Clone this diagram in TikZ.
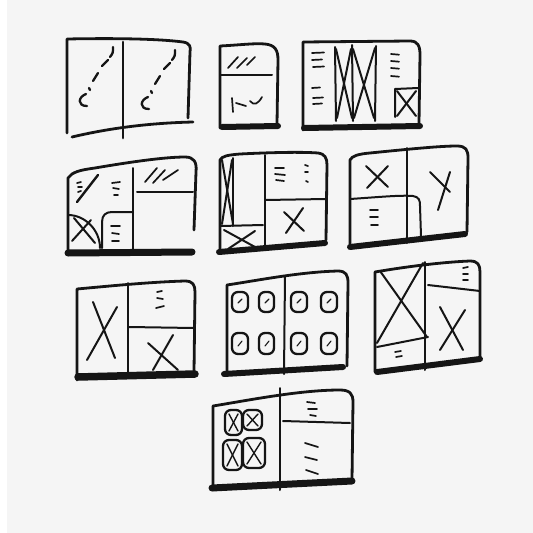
\documentclass[tikz,border=0pt]{standalone}
\usetikzlibrary{calc}
\definecolor{bgg}{HTML}{F5F5F5}
\definecolor{ink}{HTML}{151515}
\begin{document}
\begin{tikzpicture}[x=1pt,y=-1pt,
  sk/.style={line width=2.8pt,line cap=round,line join=round,draw=ink},
  thin/.style={line width=2pt,line cap=round,line join=round,draw=ink},
  dsh/.style={line width=1.7pt,line cap=round,draw=ink},
  base/.style={line width=6pt,line cap=round,draw=ink},
  tile/.style={line width=2.3pt,line cap=round,line join=round,draw=ink,rounded corners=6pt}]
\useasboundingbox (0,0) rectangle (533,533);
\fill[white] (0,0) rectangle (533,533);
\fill[bgg] (7,0) rectangle (533,533);

% ---- sketch 1
\draw[sk] (67,133) -- (67,39) .. controls (120,38) and (160,39) .. (183,42) .. controls (190,43) and (191,47) .. (190,52) -- (188,118);
\draw[sk] (72,137) .. controls (110,128) and (150,123) .. (193,122);
\draw[sk] (123,42) -- (123,138);
\foreach \dx/\dy in {0/0,62/3}{
  \begin{scope}[shift={(\dx,\dy)}]
  \draw[dsh,line width=2.3pt] (86,94) .. controls (78,97) and (77,106) .. (87,106);
  \draw[dsh,line width=2.3pt] (89,88) -- (90,90);
  \draw[dsh,line width=2.3pt] (93,81) -- (98,73);
  \draw[dsh,line width=2.3pt] (102,66) -- (108,60);
  \draw[dsh,line width=2.3pt] (110,57) .. controls (113,53) .. (113,47);
  \end{scope}}

% ---- sketch 2
\draw[sk] (220,128) -- (220,46) .. controls (240,45) and (255,43) .. (265,44) .. controls (275,45) and (278,50) .. (278,60) -- (277,124);
\draw[thin] (220,75) -- (272,75);
\draw[base] (222,127) -- (278,126);
\draw[dsh] (228,68) -- (238,57);
\draw[dsh] (237,68) -- (247,58);
\draw[dsh] (247,65) -- (255,57);
\draw[dsh] (232,98) -- (233,112);
\draw[dsh] (236,103) -- (246,106);
\draw[dsh] (250,101) .. controls (254,106) and (258,104) .. (262,97);

% ---- sketch 3
\draw[sk] (303,130) -- (303,42) -- (410,41) .. controls (418,41) and (420,46) .. (420,55) -- (419,123);
\draw[base] (304,128) -- (420,126);
\draw[thin] (335,47) -- (336,121);
\draw[thin] (352,45) -- (353,121);
\draw[thin] (376,46) -- (375,121);
\draw[thin] (336,49) -- (352,118);
\draw[thin] (351,49) -- (337,118);
\draw[thin] (353,49) -- (374,118);
\draw[thin] (375,48) -- (354,118);
\foreach \a/\b/\y in {312/324/53,312/322/60,313/324/67,312/320/88,313/323/98,313/322/104}
  \draw[dsh] (\a,\y) -- (\b,\y-0.5);
\foreach \y in {54,61,68,76}
  \draw[dsh] (391,\y) -- (399,\y+0.7);
\draw[thin] (395,117) -- (395,89) -- (418,88);
\draw[thin] (397,91) -- (416,116);
\draw[thin] (416,91) -- (397,116);

% ---- sketch 4
\draw[sk] (68,250) -- (68,178) .. controls (72,172) and (80,170) .. (95,168) .. controls (130,162) and (165,157) .. (185,157) .. controls (194,157) and (197,162) .. (196,172) -- (194,230);
\draw[base,line width=7pt] (68,253) -- (192,252);
\draw[thin] (133,168) -- (133,252);
\draw[thin] (137,192) -- (193,192);
\draw[dsh] (145,182) -- (157,168);
\draw[dsh] (153,183) -- (165,170);
\draw[dsh] (163,180) -- (178,170);
\draw[thin,line width=2.4pt] (77,202) -- (98,175);
\draw[dsh] (77,183) -- (81,182);
\draw[dsh] (78,187) -- (82,187);
\draw[dsh] (78,192) -- (81,191);
\draw[dsh] (112,183) -- (120,182);
\draw[dsh] (113,188) -- (119,189);
\draw[dsh] (114,195) -- (118,195);
\draw[thin] (102,248) -- (102,222) .. controls (102,215) and (106,212) .. (112,212) -- (133,212);
\draw[dsh] (111,226) -- (120,226);
\draw[dsh] (112,233) -- (119,234);
\draw[dsh] (112,241) -- (119,241);
\draw[thin] (68,215) .. controls (85,215) and (100,230) .. (100,248);
\draw[thin] (72,241) -- (91,220);
\draw[thin] (74,218) -- (95,243);

% ---- sketch 5
\draw[sk] (220,252) -- (220,160) .. controls (222,156) and (228,155) .. (240,154) .. controls (280,152) and (305,152) .. (318,153) .. controls (325,154) and (327,158) .. (327,165) -- (326,240);
\draw[base] (219,252) -- (325,243);
\draw[thin] (265,155) -- (265,250);
\draw[thin] (265,200) -- (326,199);
\draw[thin] (233,158) -- (233,226);
\draw[thin] (222,160) -- (233,224);
\draw[thin] (232,160) -- (222,224);
\draw[thin] (220,226) -- (263,225);
\draw[thin] (224,230) -- (255,247);
\draw[thin] (255,231) -- (228,249);
\draw[dsh] (275,168) -- (284,168);
\draw[dsh] (275,174) -- (285,175);
\draw[dsh] (276,180) -- (284,181);
\draw[dsh] (305,165) -- (308,166);
\draw[dsh] (305,172) -- (308,172);
\draw[dsh] (306,181) -- (308,182);
\draw[thin] (284,212) -- (304,231);
\draw[thin] (303,208) -- (286,233);

% ---- sketch 6
\draw[sk] (350,247) -- (350,160) .. controls (352,156) and (358,154) .. (370,153) .. controls (410,149) and (440,146) .. (457,146) .. controls (466,146) and (468,150) .. (468,158) -- (467,232);
\draw[base] (350,247) -- (465,234);
\draw[thin] (407,148) -- (407,243);
\draw[thin] (350,199) .. controls (380,197) and (400,195) .. (413,196) .. controls (419,197) and (420,200) .. (420,206) -- (421,236);
\draw[thin] (366,166) -- (388,187);
\draw[thin] (388,166) -- (367,188);
\draw[thin] (430,172) -- (450,192);
\draw[thin] (450,172) -- (438,210);
\draw[dsh] (370,210) -- (378,210);
\draw[dsh] (370,217) -- (378,217);
\draw[dsh] (371,225) -- (378,225);

% ---- sketch 7
\draw[sk] (77,380) -- (77,289) .. controls (110,286) and (150,282) .. (185,281) .. controls (193,281) and (195,285) .. (195,292) -- (194,372);
\draw[base,line width=7.5pt] (78,377) -- (195,374);
\draw[thin] (128,283) -- (128,375);
\draw[thin] (129,327) -- (194,328);
\draw[thin] (93,302) -- (115,358);
\draw[thin] (117,307) -- (87,360);
\draw[dsh] (157,292) -- (162,291);
\draw[dsh] (157,298) -- (163,299);
\draw[dsh] (156,308) -- (164,306);
\draw[thin] (148,343) -- (178,370);
\draw[thin] (173,335) -- (153,370);

% ---- sketch 8
\draw[sk] (227,373) -- (227,285) .. controls (260,280) and (300,272) .. (338,271) .. controls (346,271) and (348,275) .. (348,283) -- (347,366);
\draw[base] (224,374) -- (343,367);
\draw[thin] (285,276) -- (284,374);
\foreach \xa/\xb in {232/248,259/274,291/307,321/337}{
  \draw[tile] (\xa,292) rectangle (\xb,312);
  \draw[tile] (\xa,333) rectangle (\xb,354);
  \draw[dsh,line width=1.1pt] (\xa+6,303) -- (\xa+10,299);
  \draw[dsh,line width=1.1pt] (\xa+6,346) -- (\xa+10,341);
}

% ---- sketch 9
\draw[sk] (375,372) -- (375,272) .. controls (410,266) and (445,262) .. (470,261) .. controls (478,261) and (480,265) .. (480,272) -- (480,357);
\draw[base] (377,372) -- (480,359);
\draw[thin] (425,262) -- (425,370);
\draw[thin] (428,285) -- (480,291);
\draw[thin] (377,347) -- (428,337);
\draw[thin] (380,271) -- (427,337);
\draw[thin] (423,263) -- (377,343);
\draw[thin] (440,307) -- (463,350);
\draw[thin] (465,310) -- (440,350);
\draw[dsh] (463,268) -- (468,267);
\draw[dsh] (463,274) -- (468,274);
\draw[dsh] (463,280) -- (468,280);
\draw[dsh] (395,352) -- (401,351);
\draw[dsh] (396,357) -- (402,356);

% ---- sketch 10
\draw[sk] (213,490) -- (213,406) .. controls (250,400) and (300,390) .. (340,390) .. controls (350,390) and (353,394) .. (353,402) -- (352,480);
\draw[base,line width=7pt] (212,488) -- (352,481);
\draw[thin] (280,388) -- (280,490);
\draw[thin] (283,421) -- (350,423);
\draw[dsh] (307,402) -- (315,403);
\draw[dsh] (308,409) -- (317,409);
\draw[dsh] (310,415) -- (316,416);
\draw[dsh] (305,443) -- (318,447);
\draw[dsh] (305,457) -- (317,460);
\draw[dsh] (306,470) -- (318,474);
\foreach \xa/\ya/\xb/\yb in {225/410/242/435,243/410/262/430,223/440/242/470,243/438/265/468}{
  \draw[tile] (\xa,\ya) rectangle (\xb,\yb);
  \draw[thin,line width=1.4pt] (\xa+4,\ya+4) -- (\xb-4,\yb-4);
  \draw[thin,line width=1.4pt] (\xb-4,\ya+4) -- (\xa+4,\yb-4);
}
\end{tikzpicture}
\end{document}
